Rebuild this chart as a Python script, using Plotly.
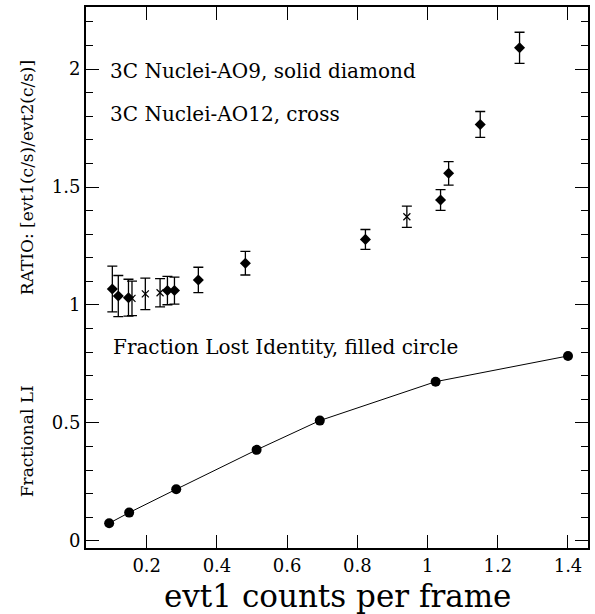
import plotly.graph_objects as go

# AO9 solid diamonds
ao9_x = [0.102, 0.119, 0.148, 0.259, 0.279, 0.347, 0.481, 0.823, 1.037, 1.060, 1.150, 1.262]
ao9_y = [1.068, 1.038, 1.031, 1.061, 1.061, 1.106, 1.177, 1.278, 1.445, 1.558, 1.765, 2.090]
ao9_err = [0.097, 0.087, 0.078, 0.060, 0.057, 0.054, 0.050, 0.042, 0.044, 0.050, 0.055, 0.066]

# AO12 crosses
ao12_x = [0.158, 0.196, 0.238, 0.941]
ao12_y = [1.028, 1.047, 1.052, 1.374]
ao12_err = [0.073, 0.067, 0.060, 0.045]

# Fraction lost identity
li_x = [0.093, 0.150, 0.284, 0.513, 0.693, 1.023, 1.400]
li_y = [0.075, 0.120, 0.219, 0.386, 0.510, 0.675, 0.784]

x_ticks = [0.2, 0.4, 0.6, 0.8, 1.0, 1.2, 1.4]
x_labels = ["0.2", "0.4", "0.6", "0.8", "1", "1.2", "1.4"]
y_ticks = [0, 0.5, 1, 1.5, 2]
y_labels = ["0", "0.5", "1", "1.5", "2"]

FONT = "DejaVu Serif"

fig = go.Figure()
fig.add_trace(go.Scatter(
    x=li_x, y=li_y, mode="lines+markers",
    line=dict(color="black", width=1),
    marker=dict(symbol="circle", size=10, color="black"),
    showlegend=False))
fig.add_trace(go.Scatter(
    x=ao9_x, y=ao9_y, mode="markers",
    error_y=dict(type="data", array=ao9_err, color="black", thickness=1.3, width=5),
    marker=dict(symbol="diamond", size=8.5, color="black"),
    showlegend=False))
fig.add_trace(go.Scatter(
    x=ao12_x, y=ao12_y, mode="markers",
    error_y=dict(type="data", array=ao12_err, color="black", thickness=1.3, width=5),
    marker=dict(symbol="x-thin", size=7, color="black", line=dict(width=1.2, color="black")),
    showlegend=False))

axis_common = dict(showgrid=False, zeroline=False, showline=True, linecolor="black",
                   linewidth=2, ticks="inside", tickcolor="black", tickwidth=1,
                   mirror="allticks", tickfont=dict(family=FONT, size=18, color="black"))

fig.update_xaxes(range=[0.027, 1.457], tickvals=x_ticks, ticktext=x_labels, ticklen=13,
                 **axis_common)
fig.update_yaxes(range=[-0.03, 2.263], tickvals=y_ticks, ticktext=y_labels, ticklen=13,
                 minor=dict(dtick=0.1, tick0=0, ticklen=7, ticks="inside", tickcolor="black", tickwidth=1),
                 **axis_common)

ann = []
ann.append(dict(text="3C Nuclei-AO9, solid diamond", x=108, y=71))
ann.append(dict(text="3C Nuclei-AO12, cross", x=108, y=114))
ann.append(dict(text="Fraction Lost Identity, filled circle", x=111, y=347))
annotations = []
for a in ann:
    annotations.append(dict(text=a["text"], xref="paper", yref="paper",
                            x=(a["x"] - 86) / 504, y=1 - (a["y"] - 7) / 541,
                            xanchor="left", yanchor="middle", showarrow=False,
                            font=dict(family=FONT, size=20, color="black")))
annotations.append(dict(text="evt1 counts per frame", xref="paper", yref="paper",
                        x=(338 - 86) / 504, y=1 - (596 - 7) / 541, xanchor="center", yanchor="middle",
                        showarrow=False, font=dict(family=FONT, size=31, color="black")))
annotations.append(dict(text="RATIO: [evt1(c/s)/evt2(c/s)]", xref="paper", yref="paper",
                        x=(27 - 86) / 504, y=1 - (178 - 7) / 541, xanchor="center", yanchor="middle",
                        textangle=-90, showarrow=False, font=dict(family=FONT, size=17, color="black")))
annotations.append(dict(text="Fractional LI", xref="paper", yref="paper",
                        x=(27 - 86) / 504, y=1 - (441 - 7) / 541, xanchor="center", yanchor="middle",
                        textangle=-90, showarrow=False, font=dict(family=FONT, size=17, color="black")))

fig.update_layout(width=595, height=614, margin=dict(l=86, r=5, t=7, b=66),
                  plot_bgcolor="white", paper_bgcolor="white", annotations=annotations)

fig.write_html("out.html")
